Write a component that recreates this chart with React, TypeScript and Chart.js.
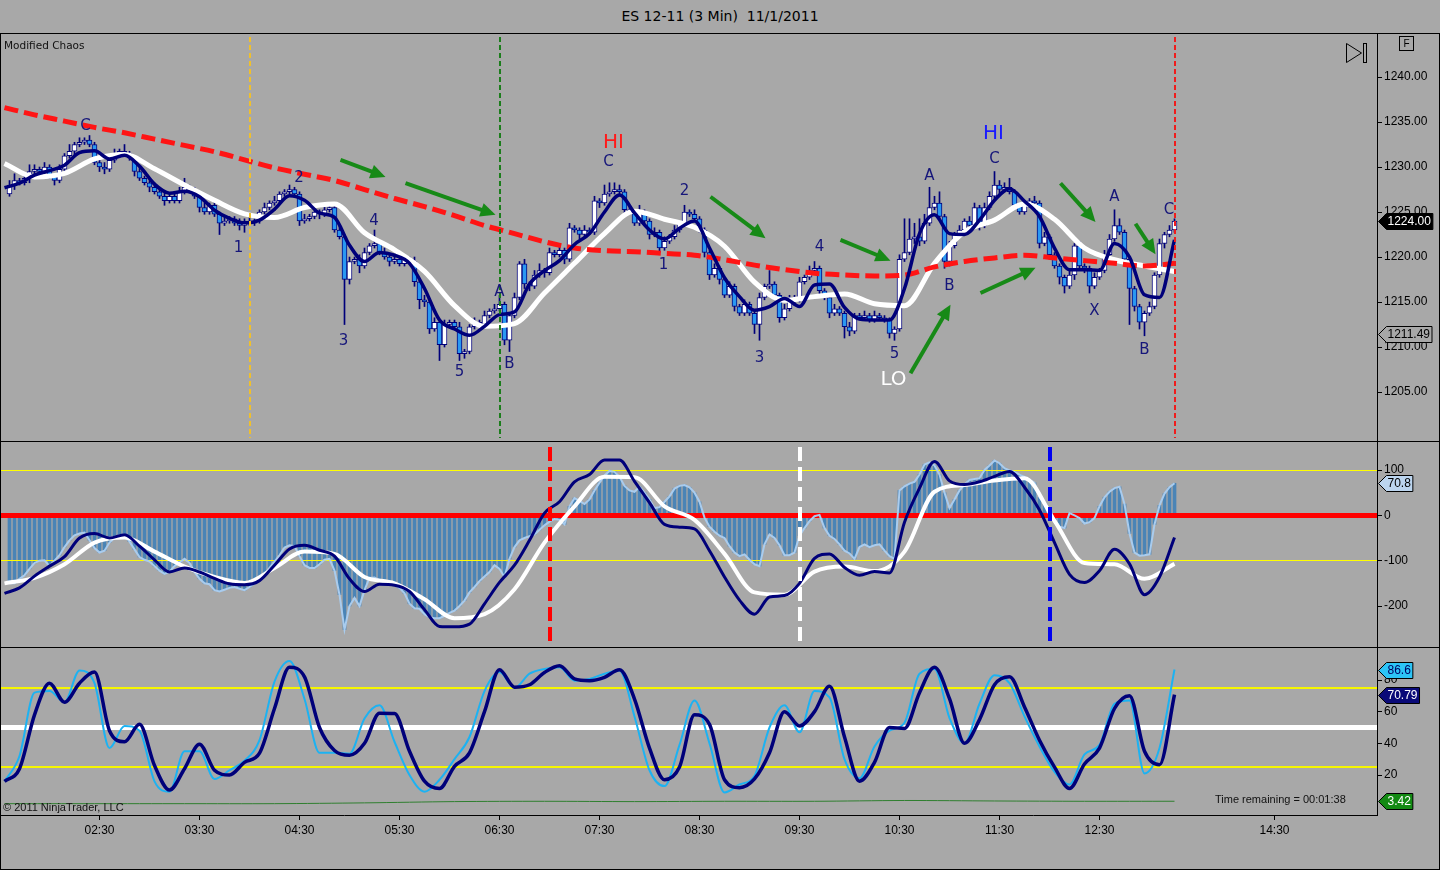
import React, { useEffect, useRef } from 'react';
import { Chart, registerables } from 'chart.js';

Chart.register(...registerables);
Chart.defaults.font.family = 'Liberation Sans';

// ---------------- data (3-minute bars, index 0 = 01:36) ----------------
const FIRST_OPEN = 1227.0;
const TICK_SIZE = 0.25;
const CLOSES = [
  1228.0, 1228.5, 1228.25, 1228.75, 1229.5, 1229.75, 1229.5, 1230.0, 1229.0, 1228.5,
  1229.75, 1231.25, 1231.75, 1232.5, 1232.75, 1233.0, 1232.5, 1230.5, 1230.0, 1229.75,
  1230.75, 1231.5, 1231.75, 1231.5, 1231.0, 1229.5, 1228.75, 1228.25, 1227.75, 1227.25,
  1226.75, 1226.25, 1226.75, 1226.25, 1227.25, 1227.75, 1227.5, 1226.75, 1225.5, 1225.0,
  1225.75, 1224.75, 1223.75, 1224.0, 1224.25, 1223.75, 1223.5, 1224.0, 1223.75, 1224.0,
  1225.0, 1225.5, 1226.0, 1226.25, 1227.0, 1227.25, 1227.5, 1227.0, 1224.0, 1224.25,
  1224.5, 1225.0, 1224.75, 1225.25, 1225.5, 1223.0, 1222.25, 1217.5, 1219.5, 1219.75,
  1219.0, 1220.5, 1221.25, 1221.5, 1220.5, 1220.0, 1219.5, 1219.75, 1219.25, 1219.75,
  1219.5, 1217.25, 1215.25, 1215.0, 1212.0, 1212.75, 1210.25, 1212.5, 1212.75, 1212.25,
  1209.25, 1209.5, 1212.25, 1212.75, 1212.5, 1213.5, 1214.0, 1214.25, 1214.75, 1210.75,
  1213.5, 1215.5, 1219.25, 1217.0, 1216.75, 1218.0, 1218.5, 1218.25, 1220.5, 1220.25,
  1220.75, 1219.75, 1223.25, 1223.0, 1222.5, 1223.0, 1222.75, 1226.25, 1226.0, 1227.0,
  1227.25, 1227.5, 1227.25, 1225.25, 1225.0, 1223.75, 1225.0, 1224.0, 1222.5, 1222.75,
  1221.0, 1221.75, 1222.25, 1223.0, 1223.75, 1225.0, 1224.75, 1224.25, 1223.0, 1220.5,
  1218.0, 1218.75, 1217.5, 1215.75, 1216.75, 1214.5, 1213.75, 1214.75, 1213.75, 1212.5,
  1215.5, 1216.75, 1217.0, 1215.75, 1213.25, 1214.25, 1215.5, 1215.25, 1217.25, 1217.75,
  1218.5, 1218.75, 1216.25, 1215.5, 1213.75, 1214.25, 1213.75, 1212.25, 1211.75, 1213.5,
  1213.25, 1213.5, 1213.0, 1213.5, 1213.25, 1213.0, 1211.5, 1212.0, 1219.75, 1220.5,
  1222.0, 1222.25, 1221.75, 1223.75, 1225.5, 1226.0, 1224.5, 1219.5, 1221.25, 1222.5,
  1223.0, 1224.0, 1223.5, 1225.5, 1223.5, 1225.5, 1226.75, 1228.0, 1227.5, 1227.75,
  1227.25, 1225.75, 1225.0, 1225.75, 1226.25, 1226.0, 1221.5, 1222.25, 1220.25, 1219.0,
  1217.75, 1216.75, 1218.0, 1221.25, 1219.0, 1218.75, 1216.75, 1217.75, 1218.5, 1220.25,
  1222.0, 1223.5, 1222.75, 1219.75, 1216.5, 1214.5, 1212.75, 1213.75, 1214.5, 1218.0,
  1221.5, 1222.5, 1223.0, 1224.0,
];
const WICK_UP_TICKS = [
  2, 3, 1, 2, 3, 2, 1, 2, 1, 1, 2, 1, 3, 1, 2, 1, 2, 1, 1, 2,
  1, 2, 1, 3, 1, 1, 2, 1, 1, 2, 1, 2, 1, 1, 2, 4, 1, 1, 1, 2,
  1, 2, 1, 2, 1, 1, 2, 1, 2, 1, 1, 2, 1, 2, 1, 1, 2, 1, 1, 2,
  1, 2, 1, 2, 1, 1, 2, 1, 2, 1, 2, 2, 1, 6, 1, 2, 1, 2, 1, 1,
  1, 2, 1, 2, 1, 2, 1, 2, 1, 1, 2, 1, 1, 2, 1, 2, 1, 2, 4, 1,
  1, 2, 1, 2, 1, 2, 3, 1, 2, 1, 2, 1, 2, 1, 1, 2, 1, 2, 1, 4,
  4, 3, 2, 1, 1, 1, 3, 1, 1, 2, 1, 2, 1, 2, 1, 3, 1, 2, 1, 1,
  1, 2, 1, 1, 2, 1, 1, 2, 1, 1, 2, 1, 6, 1, 1, 2, 1, 1, 2, 1,
  2, 3, 1, 1, 1, 2, 1, 1, 2, 1, 1, 2, 1, 2, 1, 1, 1, 1, 2, 15,
  9, 6, 8, 4, 9, 3, 5, 1, 2, 1, 2, 1, 2, 2, 1, 2, 2, 6, 2, 2,
  4, 1, 1, 2, 1, 2, 1, 2, 1, 1, 1, 1, 2, 1, 2, 1, 1, 2, 1, 2,
  2, 7, 3, 1, 1, 1, 1, 1, 2, 1, 2, 1, 2, 1,
];
const WICK_DN_TICKS = [
  1, 2, 1, 1, 2, 1, 2, 1, 1, 2, 1, 1, 1, 2, 1, 1, 1, 1, 2, 2,
  1, 1, 1, 1, 1, 2, 1, 1, 2, 1, 1, 2, 1, 1, 1, 1, 1, 1, 2, 1,
  1, 1, 5, 1, 1, 1, 2, 3, 1, 1, 1, 1, 1, 1, 1, 1, 1, 1, 2, 1,
  1, 1, 2, 1, 1, 1, 1, 20, 2, 1, 3, 1, 1, 1, 1, 1, 2, 1, 1, 1,
  1, 2, 4, 2, 2, 1, 7, 1, 1, 1, 3, 2, 1, 1, 1, 1, 1, 1, 1, 2,
  5, 1, 1, 2, 2, 1, 1, 2, 1, 1, 1, 2, 1, 1, 2, 1, 1, 1, 2, 1,
  1, 1, 1, 2, 1, 1, 1, 2, 2, 1, 2, 1, 1, 1, 1, 1, 1, 1, 1, 2,
  2, 1, 2, 1, 1, 2, 1, 1, 1, 4, 7, 1, 1, 1, 2, 1, 1, 2, 1, 1,
  1, 1, 2, 1, 2, 1, 1, 5, 2, 1, 1, 1, 1, 1, 1, 1, 2, 3, 1, 1,
  1, 2, 2, 1, 1, 1, 1, 3, 2, 1, 1, 1, 2, 1, 2, 1, 1, 1, 2, 1,
  1, 2, 1, 1, 1, 1, 2, 1, 2, 1, 3, 3, 1, 2, 1, 2, 3, 1, 1, 1,
  1, 1, 1, 2, 16, 2, 3, 6, 1, 1, 1, 2, 1, 1,
];

// indicator lines, sampled from bar index LINE_START every STEP bars
const LINE_START = -1;
const STEP_FAST = 3;
const STEP_SLOW = 6;
const FAST_MA = [
  1227.7, 1228.2, 1229.1, 1229.6, 1230.2, 1231.6, 1231.8, 1230.9, 1231.3, 1230.1,
  1228.1, 1227.1, 1227.3, 1226.7, 1225.2, 1224.3, 1223.8, 1224.1, 1225.3, 1226.8,
  1226.3, 1224.9, 1224.4, 1221.3, 1219.5, 1220.5, 1220.2, 1219.3, 1216.5, 1213.0,
  1212.0, 1211.3, 1212.3, 1213.6, 1213.9, 1217.0, 1218.5, 1219.6, 1221.4, 1222.6,
  1225.0, 1226.9, 1224.9, 1223.0, 1222.0, 1223.2, 1224.0, 1221.0, 1217.7, 1215.6,
  1214.1, 1214.5, 1215.4, 1214.5, 1216.9, 1217.0, 1214.4, 1213.1, 1213.0, 1213.0,
  1216.5, 1222.6, 1224.7, 1222.6, 1222.5, 1224.1, 1226.3, 1227.6, 1226.2, 1224.5,
  1221.0, 1218.6, 1218.6, 1218.5, 1221.5, 1220.0, 1215.8, 1215.5, 1221.9,
];
const SLOW_MA = [
  1230.4, 1228.9, 1229.3, 1230.9, 1231.4, 1229.8, 1228.0, 1226.3, 1224.8, 1224.4,
  1225.5, 1225.9, 1222.7, 1220.8, 1218.4, 1214.6, 1212.3, 1212.6, 1216.0, 1219.3,
  1222.6, 1225.1, 1224.2, 1223.3, 1221.2, 1217.2, 1215.2, 1215.6, 1215.9, 1214.8,
  1214.6, 1219.3, 1222.8, 1224.1, 1225.9, 1224.2, 1221.0, 1219.7, 1219.0, 1218.4,
];
const LONG_MA = [
  1236.6, 1235.8, 1235.1, 1234.4, 1233.8, 1233.1, 1232.4, 1231.7, 1230.8, 1229.9,
  1229.2, 1228.5, 1227.5, 1226.5, 1225.6, 1224.6, 1223.5, 1222.6, 1221.7, 1221.0,
  1220.7, 1220.6, 1220.4, 1220.2, 1219.7, 1219.1, 1218.6, 1218.2, 1218.0, 1217.9,
  1218.0, 1218.9, 1219.5, 1219.9, 1220.2, 1219.9, 1219.6, 1219.3, 1219.0, 1219.3,
];

const HISTOGRAM = [
  -150, -150, -140, -132, -118, -105, -100, -99, -112, -100,
  -88, -70, -55, -44, -40, -38, -55, -72, -82, -78,
  -60, -50, -44, -42, -58, -75, -92, -98, -102, -112,
  -122, -129, -124, -112, -104, -96, -105, -125, -140, -150,
  -152, -165, -168, -164, -160, -158, -162, -165, -158, -150,
  -140, -130, -116, -102, -88, -71, -66, -68, -90, -110,
  -116, -116, -108, -98, -96, -122, -175, -252, -200, -182,
  -200, -165, -138, -137, -143, -148, -151, -154, -160, -172,
  -195, -205, -206, -218, -225, -227, -227, -222, -215, -210,
  -200, -188, -170, -158, -145, -135, -125, -110, -118, -136,
  -96, -70, -55, -50, -46, -42, -32, -22, -14, -8,
  -10, -20, 20, 38, 32, 25, 35, 55, 72, 88,
  98, 96, 85, 65, 55, 52, 63, 50, 35, 16,
  18, 30, 42, 59, 65, 67, 62, 50, 30, -5,
  -25, -36, -45, -50, -68, -82, -90, -86, -98, -108,
  -112, -64, -42, -50, -66, -88, -88, -82, -45, -28,
  -13, -2, 1, -28, -45, -52, -64, -78, -84, -96,
  -70, -64, -70, -66, -64, -78, -90, -96, 55, 64,
  70, 74, 90, 112, 117, 110, 90, 50, 16, 35,
  55, 68, 78, 80, 82, 100, 110, 121, 115, 104,
  99, 96, 90, 85, 78, 72, 40, 25, 15, -10,
  -25, -28, 5, 0, -6, -18, -15, -6, 20, 40,
  52, 60, 63, 25, -40, -82, -89, -88, -86, -20,
  22, 48, 62, 70.8,
];
const OSC_FAST = [
  -172, -160, -134, -112, -91, -50, -40, -50, -43, -68,
  -98, -125, -116, -125, -139, -151, -153, -144, -110, -74,
  -66, -77, -90, -140, -168, -152, -154, -168, -208, -245,
  -246, -240, -195, -148, -110, -55, 5, 30, 74, 90,
  122, 122, 75, 28, -20, -26, -30, -78, -136, -187,
  -218, -180, -177, -150, -95, -85, -115, -132, -124, -127,
  -15, 60, 119, 76, 68, 74, 86, 97, 62, 12,
  -60, -130, -148, -122, -75, -107, -175, -136, -49,
];
const OSC_SLOW = [
  -150, -138, -108, -60, -49, -80, -113, -136, -149, -116,
  -80, -85, -136, -150, -185, -227, -218, -163, -60, 20,
  85, 84, 20, -10, -85, -170, -175, -124, -113, -123,
  -80, 52, 67, 77, 82, -12, -105, -108, -140, -107,
];

const STOCH_K = [
  16, 32, 72, 73, 66, 86, 78, 37, 51, 48,
  16, 9.5, 35, 35, 17.5, 23, 29, 42, 79, 92,
  68, 34, 34, 33.5, 55.7, 64, 41, 20, 9.5, 17,
  30, 44, 73, 85, 75, 84, 87, 88, 79.6, 80.7,
  84, 86, 57, 23, 13, 39, 67, 40, 9, 14,
  19.5, 50, 64, 47, 73, 69, 30, 18, 38, 48,
  53, 84, 87, 56, 40, 65, 83, 78, 57, 38,
  22, 14, 33, 39, 65, 67, 21, 37, 86.6,
];
const STOCH_D = [
  16, 24, 58, 78, 66, 78, 85, 48, 41, 52,
  26, 10.5, 24, 39.5, 23, 20, 28, 33.8, 62, 88,
  82, 50, 35.5, 32.5, 40, 59, 58.8, 35, 16.1, 11.5,
  25.5, 34, 60, 86.5, 75.5, 77, 84.8, 89, 80.7, 79.6,
  81.7, 86.5, 68, 37, 17, 25, 58, 52, 17, 12,
  17.5, 34, 60, 51, 60, 76, 44, 16.1, 28, 50,
  49.4, 72, 88, 68.2, 40, 55, 77, 82, 63, 42,
  25, 11.5, 27, 37, 62, 70, 35, 26.5, 70.79,
];
const STEP_GREEN = 18;
const GREEN_LINE = [1.9, 1.9, 1.9, 1.9, 2.4, 3.2, 3.4, 3.2, 3.4, 3.4, 3.9, 3.6, 3.4, 3.42];

const TIME_TICKS = [18, 38, 58, 78, 98, 118, 138, 158, 178, 198, 218, 253];
const TIME_LABELS = ['02:30', '03:30', '04:30', '05:30', '06:30', '07:30', '08:30', '09:30', '10:30', '11:30', '12:30', '14:30'];
const PRICE_TICKS = [1205, 1210, 1215, 1220, 1225, 1230, 1235, 1240];
const OSC_TICKS = [-200, -100, 0, 100];
const STOCH_TICKS = [20, 40, 60, 80];
const OSC_BANDS = [100, -100];
const OSC_ZERO = [0];
const STOCH_BANDS = [25, 75];
const STOCH_MID = [50];

const PRICE_BOXES = [
  { v: 1224.0, digits: 2, kind: 'last' },
  { v: 1211.49, digits: 2, kind: 'ref' },
];
const OSC_BOXES = [{ v: 70.8, digits: 1, kind: 'hist' }];
const STOCH_BOXES = [
  { v: 86.6, digits: 1, kind: 'k' },
  { v: 70.79, digits: 2, kind: 'd' },
  { v: 3.42, digits: 2, kind: 'g' },
];

const PRICE_VLINES = [
  { i: 48, kind: 'orange' },
  { i: 98, kind: 'green' },
  { i: 233, kind: 'red' },
];
const OSC_VLINES = [
  { i: 108, kind: 'red' },
  { i: 158, kind: 'white' },
  { i: 208, kind: 'blue' },
];

const WAVE_LABELS = [
  { text: 'C', i: 15.2, v: 1234.5, kind: 'wave' },
  { text: '1', i: 45.8, v: 1221.0, kind: 'wave' },
  { text: '2', i: 57.9, v: 1228.8, kind: 'wave' },
  { text: '3', i: 66.8, v: 1210.7, kind: 'wave' },
  { text: '4', i: 72.9, v: 1224.0, kind: 'wave' },
  { text: '5', i: 90.0, v: 1207.2, kind: 'wave' },
  { text: 'A', i: 98.0, v: 1216.1, kind: 'wave' },
  { text: 'B', i: 100.0, v: 1208.1, kind: 'wave' },
  { text: 'HI', i: 120.8, v: 1232.7, kind: 'hiRed' },
  { text: 'C', i: 119.8, v: 1230.6, kind: 'wave' },
  { text: '1', i: 130.8, v: 1219.1, kind: 'wave' },
  { text: '2', i: 135.0, v: 1227.3, kind: 'wave' },
  { text: '3', i: 150.0, v: 1208.8, kind: 'wave' },
  { text: '4', i: 162.0, v: 1221.1, kind: 'wave' },
  { text: '5', i: 177.0, v: 1209.2, kind: 'wave' },
  { text: 'LO', i: 176.8, v: 1206.4, kind: 'lo' },
  { text: 'A', i: 184.0, v: 1229.0, kind: 'wave' },
  { text: 'B', i: 188.0, v: 1216.8, kind: 'wave' },
  { text: 'HI', i: 196.8, v: 1233.7, kind: 'hiBlue' },
  { text: 'C', i: 197.0, v: 1230.9, kind: 'wave' },
  { text: 'X', i: 217.0, v: 1214.0, kind: 'wave' },
  { text: 'A', i: 221.0, v: 1226.7, kind: 'wave' },
  { text: 'B', i: 227.0, v: 1209.7, kind: 'wave' },
  { text: 'C', i: 231.9, v: 1225.2, kind: 'wave' },
];
// [fromBar, fromPrice, toBar, toPrice]
const ARROWS = [
  [66.2, 1230.8, 75.2, 1228.9],
  [79.2, 1228.2, 97.2, 1224.7],
  [140.2, 1226.7, 151.2, 1222.1],
  [166.2, 1221.9, 176.2, 1219.6],
  [180.2, 1207.1, 188.2, 1214.7],
  [194.2, 1216.0, 205.2, 1218.8],
  [210.2, 1228.2, 217.2, 1223.9],
  [225.2, 1223.7, 229.2, 1220.3],
];

// ---------------- layout / style ----------------
const BG = '#a8a8a8';
const NAVY = '#00007a';
const UP_FILL = '#ffffff';
const DOWN_FILL = '#2a98f2';
const AXIS_WIDTH = 63;
const AXIS_FONT = 'Liberation Sans';
const X_MIN = -1.9;
const X_MAX = 273.5;
const PRICE_RANGE = [1199.56, 1244.78];
const OSC_RANGE = [-290.4, 161.8];
const STOCH_RANGE = [-5.26, 100.21];

const VLINE_STYLE: any = {
  orange: { color: '#f0c02c', width: 2, dash: [5, 3], inset: 3 },
  green: { color: '#1b7d1b', width: 2, dash: [5, 3], inset: 3 },
  red: { color: '#f01c1c', width: 2, dash: [5, 3], inset: 3 },
};
const OSC_VLINE_STYLE: any = {
  red: { color: '#ff0000', width: 4, dash: [14, 6], inset: 5 },
  white: { color: '#ffffff', width: 4, dash: [14, 6], inset: 5 },
  blue: { color: '#0000f0', width: 4, dash: [14, 6], inset: 5 },
};
const LABEL_STYLE: any = {
  wave: { color: '#16167a', font: '15px "DejaVu Sans"' },
  hiRed: { color: '#ff1a1a', font: '20px "DejaVu Sans"' },
  hiBlue: { color: '#1a1aff', font: '20px "DejaVu Sans"' },
  lo: { color: '#ffffff', font: '20px "DejaVu Sans"' },
};
const BOX_STYLE: any = {
  last: { fill: '#000000', text: '#ffffff' },
  ref: { fill: '#a8a8a8', text: '#000000' },
  hist: { fill: '#bcd5ef', text: '#000000' },
  k: { fill: '#2cc4f6', text: '#000060' },
  d: { fill: '#0a0a78', text: '#ffffff' },
  g: { fill: '#138a13', text: '#ffffff' },
};

// ---------------- derived (candles built from the arrays) ----------------
const OPENS = CLOSES.map((c, i) => (i === 0 ? FIRST_OPEN : CLOSES[i - 1]));
const HIGHS = CLOSES.map((c, i) => Math.max(OPENS[i], c) + WICK_UP_TICKS[i] * TICK_SIZE);
const LOWS = CLOSES.map((c, i) => Math.min(OPENS[i], c) - WICK_DN_TICKS[i] * TICK_SIZE);
const sparse = (vals: number[], start: number, step: number) => vals.map((y, k) => ({ x: start + k * step, y }));

// ---------------- helpers ----------------
const xHidden: any = { type: 'linear', min: X_MIN, max: X_MAX, offset: false, display: false };

function makeYAxis(range: number[], ticks: number[], digits: number): any {
  return {
    type: 'linear',
    position: 'right',
    min: range[0],
    max: range[1],
    afterBuildTicks: (s: any) => {
      s.ticks = ticks.map((v) => ({ value: v }));
    },
    afterFit: (s: any) => {
      s.width = AXIS_WIDTH;
      s.paddingTop = 0;
      s.paddingBottom = 0;
    },
    ticks: {
      color: '#000',
      padding: 2,
      autoSkip: false,
      font: { family: AXIS_FONT, size: 12 },
      callback: (v: any) => Number(v).toFixed(digits),
    },
    grid: { display: true, drawOnChartArea: false, drawTicks: true, tickLength: 5, tickColor: '#000', color: '#000' },
    border: { display: true, color: '#000', width: 1 },
  };
}

function baseOptions(scales: any): any {
  return {
    responsive: false,
    maintainAspectRatio: false,
    animation: false,
    events: [],
    layout: { padding: 0 },
    elements: { point: { radius: 0 } },
    plugins: { legend: { display: false }, tooltip: { enabled: false }, title: { display: false } },
    scales,
  };
}

function clipArea(chart: any) {
  const { ctx, chartArea: a } = chart;
  ctx.beginPath();
  ctx.rect(a.left, a.top, a.right - a.left, a.bottom - a.top);
  ctx.clip();
}

function drawLevels(chart: any, values: number[], color: string, width: number) {
  const { ctx, chartArea: a } = chart;
  const y = chart.scales.y;
  ctx.save();
  ctx.setLineDash([]);
  ctx.globalAlpha = 1;
  ctx.fillStyle = color;
  values.forEach((v) => {
    const py = y.getPixelForValue(v);
    const top = Math.round(py - width / 2);
    ctx.fillRect(a.left, top, a.right - a.left, width);
  });
  ctx.restore();
}

function drawVLines(chart: any, list: any[], styles: any) {
  const { ctx, chartArea: a } = chart;
  const x = chart.scales.x;
  ctx.save();
  clipArea(chart);
  list.forEach((m) => {
    const s = styles[m.kind];
    const px = Math.round(x.getPixelForValue(m.i));
    ctx.strokeStyle = s.color;
    ctx.lineWidth = s.width;
    ctx.setLineDash(s.dash);
    ctx.beginPath();
    ctx.moveTo(px, a.top + s.inset);
    ctx.lineTo(px, a.bottom - s.inset);
    ctx.stroke();
  });
  ctx.restore();
}

function drawBoxes(chart: any, list: any[]) {
  const { ctx, chartArea: a } = chart;
  const y = chart.scales.y;
  ctx.save();
  ctx.font = `12px "${AXIS_FONT}"`;
  ctx.textBaseline = 'middle';
  ctx.textAlign = 'left';
  list.forEach((b) => {
    const s = BOX_STYLE[b.kind];
    const text = b.v.toFixed(b.digits);
    const w = ctx.measureText(text).width;
    const py = Math.round(y.getPixelForValue(b.v)) + 0.5;
    const x0 = a.right + 1.5;
    const x1 = x0 + 8;
    const x2 = x1 + w + 3;
    const h = 8;
    ctx.beginPath();
    ctx.moveTo(x0, py);
    ctx.lineTo(x1, py - h);
    ctx.lineTo(x2, py - h);
    ctx.lineTo(x2, py + h);
    ctx.lineTo(x1, py + h);
    ctx.closePath();
    ctx.fillStyle = s.fill;
    ctx.fill();
    ctx.strokeStyle = '#000';
    ctx.lineWidth = 1;
    ctx.stroke();
    ctx.fillStyle = s.text;
    ctx.fillText(text, x1 + 1, py + 0.5);
  });
  ctx.restore();
}

function drawArrow(ctx: CanvasRenderingContext2D, x0: number, y0: number, x1: number, y1: number) {
  const ang = Math.atan2(y1 - y0, x1 - x0);
  const head = 15;
  const half = 7;
  const bx = x1 - head * Math.cos(ang);
  const by = y1 - head * Math.sin(ang);
  ctx.beginPath();
  ctx.moveTo(x0, y0);
  ctx.lineTo(bx + Math.cos(ang), by + Math.sin(ang));
  ctx.stroke();
  ctx.beginPath();
  ctx.moveTo(x1, y1);
  ctx.lineTo(bx + half * Math.sin(ang), by - half * Math.cos(ang));
  ctx.lineTo(bx - half * Math.sin(ang), by + half * Math.cos(ang));
  ctx.closePath();
  ctx.fill();
}

// ---------------- plugins ----------------
const pricePlugin: any = {
  id: 'priceDecor',
  afterDatasetsDraw(chart: any) {
    drawVLines(chart, PRICE_VLINES, VLINE_STYLE);
    const { ctx } = chart;
    const x = chart.scales.x;
    const y = chart.scales.y;
    ctx.save();
    clipArea(chart);
    ctx.strokeStyle = '#178a17';
    ctx.fillStyle = '#178a17';
    ctx.lineWidth = 4;
    ctx.lineCap = 'butt';
    ARROWS.forEach((r) => {
      drawArrow(ctx, x.getPixelForValue(r[0]), y.getPixelForValue(r[1]), x.getPixelForValue(r[2]), y.getPixelForValue(r[3]));
    });
    ctx.textAlign = 'center';
    ctx.textBaseline = 'middle';
    WAVE_LABELS.forEach((l) => {
      const s = LABEL_STYLE[l.kind];
      ctx.font = s.font;
      ctx.fillStyle = s.color;
      ctx.fillText(l.text, x.getPixelForValue(l.i), y.getPixelForValue(l.v));
    });
    ctx.restore();
  },
  afterDraw(chart: any) {
    drawBoxes(chart, PRICE_BOXES);
  },
};

const oscPlugin: any = {
  id: 'oscDecor',
  afterDatasetDraw(chart: any, args: any) {
    if (args.index !== 0) return;
    drawLevels(chart, OSC_BANDS, '#ffff00', 1);
    drawLevels(chart, OSC_ZERO, '#ff0000', 5);
  },
  afterDatasetsDraw(chart: any) {
    drawVLines(chart, OSC_VLINES, OSC_VLINE_STYLE);
  },
  afterDraw(chart: any) {
    drawBoxes(chart, OSC_BOXES);
  },
};

const stochPlugin: any = {
  id: 'stochDecor',
  afterDatasetDraw(chart: any, args: any) {
    if (args.index !== 0) return;
    drawLevels(chart, STOCH_BANDS, '#f5f500', 2);
    drawLevels(chart, STOCH_MID, '#ffffff', 5);
  },
  afterDraw(chart: any) {
    drawBoxes(chart, STOCH_BOXES);
  },
};

// ---------------- charts ----------------
function makePrice(canvas: HTMLCanvasElement) {
  return new Chart(canvas, {
    type: 'line',
    data: {
      datasets: [
        {
          type: 'bar',
          label: 'wicks',
          data: CLOSES.map((c, i) => ({ x: i, y: [LOWS[i], HIGHS[i]] })),
          backgroundColor: NAVY,
          barThickness: 1,
          grouped: false,
          order: 10,
        } as any,
        {
          type: 'bar',
          label: 'bodies',
          data: CLOSES.map((c, i) => ({ x: i, y: [Math.min(OPENS[i], c), Math.max(OPENS[i], c)] })),
          backgroundColor: CLOSES.map((c, i) => (c >= OPENS[i] ? UP_FILL : DOWN_FILL)),
          borderColor: NAVY,
          borderWidth: 1,
          borderSkipped: false,
          barThickness: 5,
          minBarLength: 2,
          grouped: false,
          order: 9,
        } as any,
        {
          type: 'line',
          label: 'slow',
          data: sparse(SLOW_MA, LINE_START, STEP_SLOW),
          borderColor: '#ffffff',
          borderWidth: 5,
          cubicInterpolationMode: 'monotone',
          order: 8,
        } as any,
        {
          type: 'line',
          label: 'long',
          data: sparse(LONG_MA, LINE_START, STEP_SLOW),
          borderColor: '#ff1414',
          borderWidth: 5,
          borderDash: [14, 6],
          cubicInterpolationMode: 'monotone',
          order: 7,
        } as any,
        {
          type: 'line',
          label: 'fast',
          data: sparse(FAST_MA, LINE_START, STEP_FAST),
          borderColor: NAVY,
          borderWidth: 3.5,
          cubicInterpolationMode: 'monotone',
          order: 6,
        } as any,
      ],
    },
    options: baseOptions({ x: xHidden, y: makeYAxis(PRICE_RANGE, PRICE_TICKS, 2) }),
    plugins: [pricePlugin],
  } as any);
}

function makeOsc(canvas: HTMLCanvasElement) {
  return new Chart(canvas, {
    type: 'line',
    data: {
      datasets: [
        {
          type: 'bar',
          label: 'hist',
          data: HISTOGRAM.map((v, i) => ({ x: i, y: v })),
          backgroundColor: '#4a84b6',
          barThickness: 3,
          grouped: false,
          order: 10,
        } as any,
        {
          type: 'line',
          label: 'histLine',
          data: HISTOGRAM.map((v, i) => ({ x: i, y: v })),
          borderColor: '#a9ccee',
          borderWidth: 2,
          tension: 0,
          order: 9,
        } as any,
        {
          type: 'line',
          label: 'oscSlow',
          data: sparse(OSC_SLOW, LINE_START, STEP_SLOW),
          borderColor: '#ffffff',
          borderWidth: 4,
          cubicInterpolationMode: 'monotone',
          order: 8,
        } as any,
        {
          type: 'line',
          label: 'oscFast',
          data: sparse(OSC_FAST, LINE_START, STEP_FAST),
          borderColor: NAVY,
          borderWidth: 3,
          cubicInterpolationMode: 'monotone',
          order: 7,
        } as any,
      ],
    },
    options: baseOptions({ x: xHidden, y: makeYAxis(OSC_RANGE, OSC_TICKS, 0) }),
    plugins: [oscPlugin],
  } as any);
}

function makeStoch(canvas: HTMLCanvasElement) {
  const xAxis: any = {
    type: 'linear',
    position: 'bottom',
    min: X_MIN,
    max: X_MAX,
    offset: false,
    afterBuildTicks: (s: any) => {
      s.ticks = TIME_TICKS.map((v) => ({ value: v }));
    },
    afterFit: (s: any) => {
      s.height = 55;
      s.paddingLeft = 0;
      s.paddingRight = 0;
    },
    ticks: {
      autoSkip: false,
      maxRotation: 0,
      color: '#000',
      padding: 3,
      font: { family: AXIS_FONT, size: 12 },
      callback: (v: any, idx: number) => TIME_LABELS[idx] ?? '',
    },
    grid: { display: true, drawOnChartArea: false, drawTicks: true, tickLength: 5, tickColor: '#000', color: '#000' },
    border: { display: true, color: '#000', width: 1 },
  };
  return new Chart(canvas, {
    type: 'line',
    data: {
      datasets: [
        {
          type: 'line',
          label: 'green',
          data: sparse(GREEN_LINE, LINE_START, STEP_GREEN),
          borderColor: '#2f7f2f',
          borderWidth: 1,
          tension: 0.3,
          order: 10,
        } as any,
        {
          type: 'line',
          label: 'k',
          data: sparse(STOCH_K, LINE_START, STEP_FAST),
          borderColor: '#1cb2f2',
          borderWidth: 2,
          cubicInterpolationMode: 'monotone',
          order: 9,
        } as any,
        {
          type: 'line',
          label: 'd',
          data: sparse(STOCH_D, LINE_START, STEP_FAST),
          borderColor: NAVY,
          borderWidth: 3.5,
          cubicInterpolationMode: 'monotone',
          order: 8,
        } as any,
      ],
    },
    options: baseOptions({ x: xAxis, y: makeYAxis(STOCH_RANGE, STOCH_TICKS, 0) }),
    plugins: [stochPlugin],
  } as any);
}

// ---------------- component ----------------
const line = (style: React.CSSProperties) => (
  <div style={{ position: 'absolute', background: '#000', ...style }} />
);

export default function App() {
  const priceRef = useRef<HTMLCanvasElement | null>(null);
  const oscRef = useRef<HTMLCanvasElement | null>(null);
  const stochRef = useRef<HTMLCanvasElement | null>(null);

  useEffect(() => {
    document.body.style.margin = '0';
    document.body.style.overflow = 'hidden';
    const charts = [
      makePrice(priceRef.current as HTMLCanvasElement),
      makeOsc(oscRef.current as HTMLCanvasElement),
      makeStoch(stochRef.current as HTMLCanvasElement),
    ];
    return () => charts.forEach((c) => c.destroy());
  }, []);

  const smallText: React.CSSProperties = { position: 'absolute', whiteSpace: 'nowrap', color: '#111' };

  return (
    <div style={{ position: 'absolute', left: 0, top: 0, width: 1440, height: 870, background: BG, overflow: 'hidden', fontFamily: AXIS_FONT }}>
      <div style={{ position: 'absolute', left: 0, top: 0, width: 1440, height: 33, lineHeight: '33px', textAlign: 'center', fontFamily: 'DejaVu Sans', fontSize: 14, color: '#000' }}>
        ES 12-11 (3 Min)&nbsp;&nbsp;11/1/2011
      </div>
      <canvas ref={priceRef} width={1440} height={407} style={{ position: 'absolute', left: 0, top: 34 }} />
      <canvas ref={oscRef} width={1440} height={205} style={{ position: 'absolute', left: 0, top: 442 }} />
      <canvas ref={stochRef} width={1440} height={222} style={{ position: 'absolute', left: 0, top: 648 }} />

      {line({ left: 0, top: 33, width: 1440, height: 1 })}
      {line({ left: 0, top: 441, width: 1440, height: 1 })}
      {line({ left: 0, top: 647, width: 1440, height: 1 })}
      {line({ left: 0, top: 869, width: 1440, height: 1 })}
      {line({ left: 0, top: 33, width: 1, height: 837 })}
      {line({ left: 1439, top: 33, width: 1, height: 837 })}

      <div style={{ ...smallText, left: 4, top: 39, fontFamily: 'DejaVu Sans', fontSize: 10.5 }}>Modified Chaos</div>
      <div style={{ ...smallText, left: 3, top: 801, fontSize: 11 }}>© 2011 NinjaTrader, LLC</div>
      <div style={{ ...smallText, left: 1215, top: 793, fontSize: 11 }}>Time remaining = 00:01:38</div>

      <svg width={24} height={24} style={{ position: 'absolute', left: 1345, top: 42 }}>
        <polygon points="1.5,1.5 16.5,11 1.5,20.5" fill="none" stroke="#000" strokeWidth={1} />
        <rect x={18.5} y={1.5} width={3} height={19} fill="none" stroke="#000" strokeWidth={1} />
      </svg>
      <div style={{ position: 'absolute', left: 1399, top: 36, width: 13, height: 13, border: '1px solid #000', fontSize: 10, lineHeight: '13px', textAlign: 'center', color: '#000' }}>F</div>
    </div>
  );
}
